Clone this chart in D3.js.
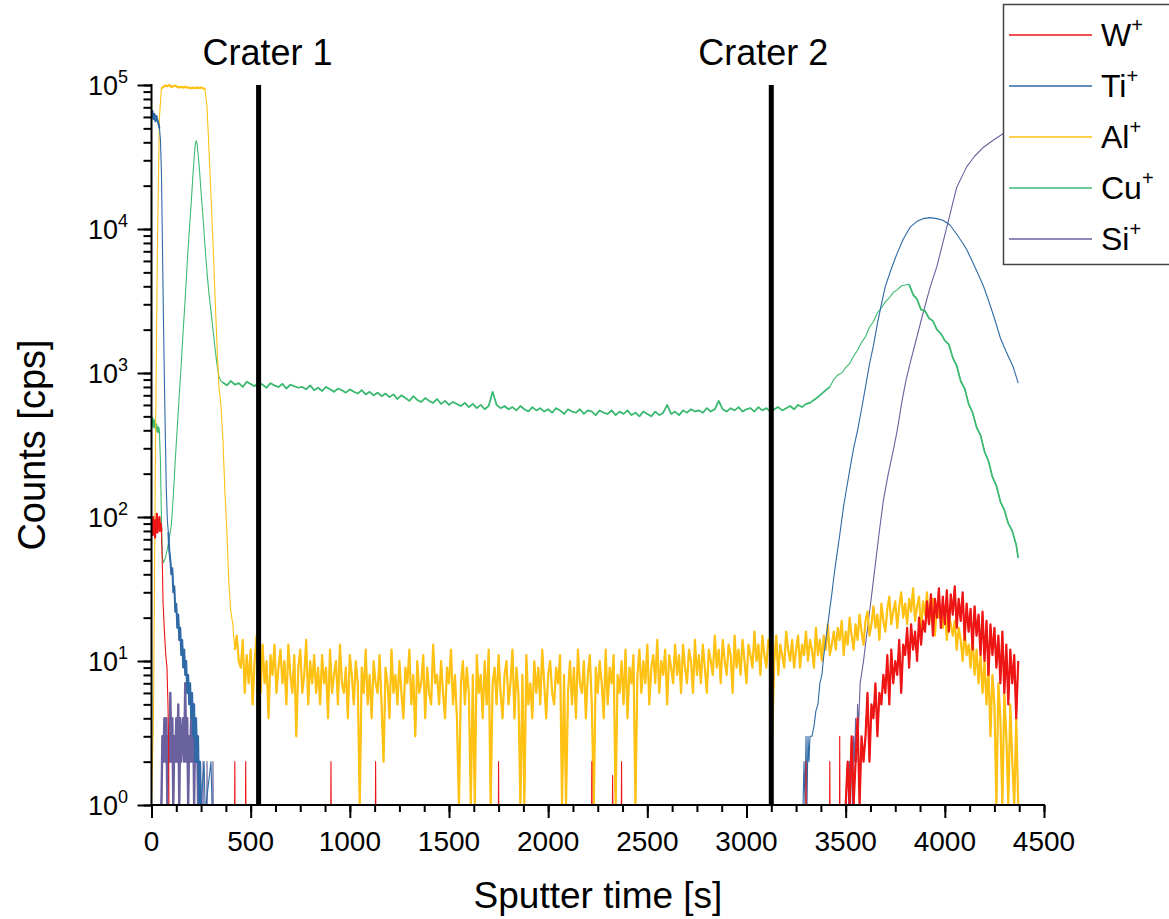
<!DOCTYPE html>
<html>
<head>
<meta charset="utf-8">
<script src="https://cdn.jsdelivr.net/npm/d3@7"></script>
<style>
  body { margin: 0; background: #fff; }
  svg { display: block; font-family: "Liberation Sans", Arial, sans-serif; }
</style>
</head>
<body>
<div id="chart"></div>
<script>
// ---- data ----
const ions = ["W", "Ti", "Al", "Cu", "Si"];
const ionColors = ["#ee1515", "#2f69a6", "#ffc114", "#3dba72", "#6a619f"];
const craterTimes = [540, 3125];
const craterLabels = ["Crater 1", "Crater 2"];
const xTicks = [0, 500, 1000, 1500, 2000, 2500, 3000, 3500, 4000, 4500];
const yTicks = [1, 10, 100, 1000, 10000, 100000];

// W+ : early burst and single-count spikes, then a noisy block every 10 s from 3500 s
const wTime = [0, 3, 6, 9, 12, 15, 18, 21, 24, 27, 30, 33, 36, 40, 43, 46, 50, 55, 58, 65, 72, 78, 83, 86, 88,
  419, 420, 421, 474, 475, 476, 904, 905, 906, 1129, 1130, 1131, 1749, 1750, 1751, 2219, 2220, 2221,
  2324, 2325, 2326, 2369, 2370, 2371, 3299, 3300, 3301, 3419, 3420, 3421, 3469, 3470, 3471, 3490];
const wCounts = [85, 95, 75, 100, 80, 90, 72, 95, 85, 105, 78, 92, 88, 100, 80, 90, 80, 45, 26, 16, 11, 9, 5, 3, 1,
  1, 2, 1, 1, 2, 1, 1, 2, 1, 1, 2, 1, 1, 2, 1, 1, 2, 1,
  1, 1.6, 1, 1, 2, 1, 1, 2, 1, 1, 2, 1, 1, 3, 1, 1];
const wLateStart = 3500, wLateStep = 10;
const wLate = [1, 2, 1, 3, 1, 2, 4, 1, 3, 2,
  3, 6, 2, 5, 4, 7, 3, 6, 5, 8,
  6, 11, 5, 12, 7, 10, 8, 14, 6, 13,
  11, 17, 9, 18, 12, 16, 10, 20, 13, 19,
  16, 26, 18, 29, 15, 27, 20, 32, 17, 28,
  18, 31, 16, 29, 21, 33, 17, 27, 19, 30,
  14, 25, 16, 23, 12, 24, 15, 21, 11, 22,
  10, 19, 8, 18, 11, 17, 9, 15, 7, 16,
  6, 13, 5, 12, 7, 11, 4, 10];

// Ti+
const tiTime = [0, 5, 10, 15, 20, 25, 30, 35, 40, 45, 50, 55, 60, 65, 70, 75, 80, 85, 90, 95, 100, 105, 110, 115, 120,
  125, 130, 135, 140, 145, 150, 155, 160, 165, 170, 175, 180, 185, 190, 195, 200, 205, 210, 215, 220, 225, 230, 235,
  240, 245, 250, 265, 270, 275, 300, 305,
  3285, 3290, 3295, 3300, 3305, 3310, 3315, 3320, 3330, 3340, 3350, 3360, 3370, 3380, 3390, 3400, 3410, 3420, 3430,
  3440, 3450, 3460, 3470, 3480, 3490, 3500, 3520, 3540, 3560, 3580, 3600, 3620, 3640, 3660, 3680, 3700, 3730, 3760,
  3790, 3825, 3860, 3890, 3925, 3960, 3990, 4025, 4060, 4090, 4110, 4140, 4170, 4195, 4220, 4250, 4280, 4310, 4345, 4370];
const tiCounts = [62000, 66000, 58000, 63000, 56000, 61000, 57000, 54000, 50000, 42000, 25000, 8000, 2500, 900, 350, 150, 95, 78, 58, 50, 40, 44, 30, 33, 22,
  25, 17, 21, 14, 17, 11, 14, 9, 12, 8, 10, 6, 8, 5, 7, 4, 6, 3, 5, 2, 4, 2, 3,
  1, 2, 1, 2, 1, 1, 2, 1,
  1, 2, 1, 3, 1, 3, 2, 3, 3, 3.5, 4.5, 5, 7, 8, 11, 14, 18, 23, 29,
  38, 48, 60, 75, 95, 120, 145, 210, 300, 400, 560, 800, 1150, 1550, 2200, 3000, 4000, 5300, 6800,
  8500, 10300, 11300, 11800, 12000, 11800, 11500, 10700, 9200, 8000, 7200, 5900, 4800, 4000, 3200, 2400, 1750, 1400, 1100, 850];

// Al+ : one value every 10 s from 0 s
const alStart = 0, alStep = 10;
const alCounts = [1, 4, 300, 8000, 60000, 95000, 97000, 99000, 98000, 100000, 97000, 98000, 99000, 97000, 96000,
  97000, 96000, 97000, 96000, 96000, 95000, 96000, 95000, 96000, 95000, 96000, 95000,
  93000, 70000, 35000, 17000, 8000, 3500, 1600, 800, 600, 350, 150, 80, 35, 22, 18, 12, 15, 10,
  9, 14, 6, 11, 7, 12, 5, 10, 15, 8, 6, 13, 7, 10, 4, 11, 8, 13, 6, 9,
  12, 7, 10, 5, 13, 8, 6, 11, 3, 9, 12, 6, 8, 14, 5, 10, 7, 11, 6, 9,
  5, 11, 7, 9, 4, 12, 6, 8, 10, 5, 13, 7, 6, 9, 4, 11, 8, 5, 10, 7,
  1, 9, 6, 12, 5, 8, 4, 10, 7, 6, 11, 5, 2, 9, 7, 4, 12, 6, 8, 5,
  10, 6, 4, 9, 7, 12, 5, 8, 3, 10, 6, 7, 11, 4, 9, 6, 5, 13, 7, 8,
  5, 10, 6, 4, 9, 7, 12, 5, 8, 4, 1, 7, 10, 5, 9, 6, 1, 8, 1, 11,
  6, 8, 4, 10, 5, 12, 1, 7, 9, 5, 11, 6, 4, 8, 10, 5, 7, 12, 4, 9,
  6, 1, 8, 1, 11, 5, 7, 4, 10, 6, 9, 5, 12, 7, 4, 8, 10, 6, 5, 9,
  7, 11, 1, 8, 1, 6, 10, 5, 9, 4, 12, 7, 6, 10, 4, 8, 11, 5, 1, 9,
  6, 10, 7, 4, 12, 5, 9, 7, 11, 1, 8, 6, 10, 5, 12, 4, 9, 7, 11, 1,
  8, 12, 6, 10, 7, 13, 5, 9, 11, 7, 14, 6, 10, 8, 12, 5, 11, 9, 7, 13,
  8, 11, 6, 13, 9, 7, 12, 10, 6, 14, 8, 11, 7, 13, 9, 6, 12, 10, 8, 15,
  9, 12, 7, 14, 10, 8, 13, 11, 6, 15, 9, 12, 8, 14, 10, 7, 13, 11, 9, 16,
  10, 13, 8, 15, 11, 9, 14, 12, 3, 10, 15, 8, 13, 11, 9, 16, 12, 10, 14, 9,
  12, 15, 9, 13, 11, 16, 10, 14, 12, 9, 17, 11, 14, 10, 15, 12, 18, 11, 13, 16,
  12, 17, 14, 19, 11, 16, 13, 20, 15, 12, 18, 14, 21, 16, 13, 19, 22, 15, 18, 24,
  17, 21, 14, 25, 19, 16, 23, 28, 18, 22, 26, 17, 24, 30, 20, 25, 18, 27, 22, 32,
  19, 24, 28, 16, 26, 21, 30, 18, 23, 27, 15, 25, 20, 22, 17, 24, 14, 21, 18, 15,
  19, 12, 17, 14, 10, 16, 11, 13, 9, 15, 8, 12, 7, 11, 6, 10, 5, 9, 3, 8,
  5, 1, 7, 4, 1, 6, 3, 1, 5, 2, 1, 4, 1];

// Cu+ : first peak, then a block every 20 s from 360 s
const cuTime = [0, 5, 10, 15, 20, 25, 30, 35, 40, 45, 50, 55, 60, 70, 80, 90, 100, 110, 120, 130, 140, 150, 160, 170,
  180, 190, 200, 210, 220, 225, 230, 240, 250, 260, 270, 280, 290, 300, 310, 320, 330, 340, 350, 4370];
const cuCounts = [450, 490, 420, 470, 410, 440, 390, 420, 380, 250, 100, 52, 48, 52, 60, 72, 88, 140, 250, 420, 700, 1150, 2000, 3300,
  5800, 9500, 15000, 25000, 38000, 41000, 39000, 28000, 18000, 12000, 7500, 5000, 3500, 2700, 2000, 1500, 1150, 950, 880, 52];
const cuBlockStart = 360, cuBlockStep = 20;
const cuBlock = [860, 820, 880, 830, 850, 800, 870, 840, 810, 860, 830, 790, 850, 820, 800, 840, 780, 830, 810, 790,
  800, 770, 820, 760, 790, 750, 800, 770, 740, 780, 760, 730, 770, 740, 720, 760, 710, 740, 700, 730,
  690, 720, 680, 710, 660, 700, 670, 640, 690, 650, 630, 670, 640, 620, 660, 610, 640, 600, 630, 610,
  590, 620, 580, 610, 570, 600, 560, 590, 740, 600, 570, 590, 560, 580, 550, 590, 560, 540, 580, 550,
  570, 540, 560, 530, 570, 550, 520, 560, 540, 530, 560, 520, 550, 540, 510, 550, 530, 520, 550, 510,
  540, 520, 550, 510, 530, 500, 540, 520, 500, 540, 510, 530, 600, 520, 540, 510, 550, 530, 560, 540,
  550, 530, 570, 540, 560, 640, 560, 540, 570, 550, 580, 540, 560, 570, 540, 580, 550, 570, 540, 560,
  580, 550, 570, 590, 560, 600, 580, 610, 620, 650, 680, 720, 760, 800,
  900, 970, 1000, 1090, 1160, 1310, 1440, 1630, 1790, 2080, 2280, 2620, 2830, 3120, 3330, 3620, 3780, 4020, 4080, 4120,
  3500, 3250, 2750, 2700, 2400, 2300, 2000, 1880, 1680, 1580, 1280, 1120, 880, 780, 610, 530, 420, 370, 285, 245,
  190, 165, 128, 112, 90, 80, 64];

// Si+
const siTime = [0, 50, 55, 60, 65, 70, 75, 80, 85, 90, 95, 100, 105, 110, 115, 120, 125, 130, 135, 140, 145, 150, 155,
  160, 165, 170, 175, 180, 185, 190, 195, 200, 205, 210, 215, 220, 225, 230, 235, 240, 245, 259, 260, 261, 279, 280,
  281, 309, 310, 311,
  3500, 3510, 3515, 3520, 3525, 3530, 3535, 3540, 3545, 3550, 3555, 3560, 3565, 3573, 3590, 3608, 3630, 3648, 3670,
  3690, 3715, 3740, 3760, 3785, 3805, 3825, 3860, 3890, 3925, 3960, 4010, 4060, 4110, 4150, 4195, 4240, 4295, 4340, 4370];
const siCounts = [1, 1, 3, 2, 4, 2, 4, 1, 3, 2, 6, 2, 4, 1, 3, 2, 4, 2, 5, 1, 4, 2, 3,
  4, 2, 7, 2, 4, 1, 3, 2, 4, 2, 5, 1, 4, 2, 3, 1, 2, 1, 1, 2, 1, 1, 2,
  1, 1, 2, 1,
  1, 2, 1, 2, 1, 3, 1, 3, 2, 4, 2, 5, 3.5, 7, 10, 16, 28, 45, 80,
  130, 200, 290, 400, 650, 900, 1170, 1800, 2600, 3900, 5500, 10300, 19500, 27000, 32000, 37000, 41000, 46000, 48500, 50000];

// ---- build series ----
const pairs = (ts, cs) => ts.map((t, i) => ({ t, c: cs[i] }));
const block = (start, step, cs) => cs.map((c, i) => ({ t: start + i * step, c }));
const byTime = (a, b) => a.t - b.t;

const seriesData = {
  W: pairs(wTime, wCounts).concat(block(wLateStart, wLateStep, wLate)).sort(byTime),
  Ti: pairs(tiTime, tiCounts),
  Al: block(alStart, alStep, alCounts),
  Cu: pairs(cuTime, cuCounts).concat(block(cuBlockStart, cuBlockStep, cuBlock)).sort(byTime),
  Si: pairs(siTime, siCounts)
};

// time windows where the signal is only counting noise: drawn heavier so the band reads as solid
const noisyWindows = {
  W: [[0, 50], [3500, 4370]],
  Ti: [[0, 40], [85, 250]],
  Al: [[50, 270], [420, 4370]],
  Cu: [[0, 40], [360, 3420], [3820, 4370]],
  Si: [[50, 250]]
};
const noisyWidth = { W: 2.2, Ti: 2, Al: 2.2, Cu: 1.7, Si: 2.4 };

// ---- chart ----
const width = 1169, height = 919;
const x = d3.scaleLinear().domain([0, 4500]).range([151.5, 1044]);
const y = d3.scaleLog().domain([1, 1e5]).range([805, 85]);
const color = d3.scaleOrdinal().domain(ions).range(ionColors);

const svg = d3.select("#chart").append("svg")
  .attr("width", width)
  .attr("height", height);

svg.append("defs").append("clipPath").attr("id", "plot-clip")
  .append("rect")
  .attr("x", x(0)).attr("y", y(1e5) - 2)
  .attr("width", x(4500) - x(0)).attr("height", y(1) - y(1e5) + 3);

const line = d3.line()
  .x(d => x(d.t))
  .y(d => y(Math.max(d.c, 1)));

// last in legend order is drawn first
const plot = svg.append("g").attr("clip-path", "url(#plot-clip)");
ions.slice().reverse().forEach(ion => {
  const g = plot.append("g");
  g.append("path")
    .datum(seriesData[ion])
    .attr("d", line)
    .attr("fill", "none")
    .attr("stroke", color(ion))
    .attr("stroke-width", 1.1)
    .attr("stroke-linejoin", "round");
  noisyWindows[ion].forEach(([t0, t1]) => {
    g.append("path")
      .datum(seriesData[ion].filter(d => d.t >= t0 && d.t <= t1))
      .attr("d", line)
      .attr("fill", "none")
      .attr("stroke", color(ion))
      .attr("stroke-width", noisyWidth[ion])
      .attr("stroke-linejoin", "round");
  });
});

// crater markers
svg.selectAll(".crater")
  .data(craterTimes)
  .enter()
  .append("line")
  .attr("class", "crater")
  .attr("x1", d => x(d)).attr("x2", d => x(d))
  .attr("y1", y(1e5)).attr("y2", y(1))
  .attr("stroke", "#000")
  .attr("stroke-width", 5);

const labelShift = [9, -8];
svg.selectAll(".crater-label")
  .data(craterLabels)
  .enter()
  .append("text")
  .attr("class", "crater-label")
  .attr("x", (d, i) => x(craterTimes[i]) + labelShift[i])
  .attr("y", 65)
  .attr("text-anchor", "middle")
  .style("font-size", "36px")
  .text(d => d);

// axes
const xAxis = svg.append("g").attr("transform", `translate(0,${y(1)})`);
xAxis.call(d3.axisBottom(x).tickValues(d3.range(0, 4501, 125)).tickSize(7).tickFormat(""));
xAxis.append("g").call(d3.axisBottom(x).tickValues(xTicks).tickSize(13).tickFormat(""));
xAxis.selectAll(".domain").remove();
xAxis.append("line").attr("x1", x(0) - 1).attr("x2", x(4500) + 1).attr("stroke", "#000").attr("stroke-width", 2);
xAxis.selectAll(".tick line").attr("stroke", "#000").attr("stroke-width", 2);

svg.selectAll(".xlabel")
  .data(xTicks)
  .enter()
  .append("text")
  .attr("class", "xlabel")
  .attr("x", d => x(d))
  .attr("y", 851)
  .attr("text-anchor", "middle")
  .style("font-size", "28px")
  .text(d => d);

const yAxis = svg.append("g").attr("transform", `translate(${x(0)},0)`);
yAxis.call(d3.axisLeft(y).tickValues(y.ticks()).tickSize(8).tickFormat(""));
yAxis.append("g").call(d3.axisLeft(y).tickValues(yTicks).tickSize(14).tickFormat(""));
yAxis.selectAll(".domain").remove();
yAxis.append("line").attr("y1", y(1e5) - 1).attr("y2", y(1) + 1).attr("stroke", "#000").attr("stroke-width", 2);
yAxis.selectAll(".tick line").attr("stroke", "#000").attr("stroke-width", 2);

const yLabels = svg.selectAll(".ylabel")
  .data(yTicks)
  .enter()
  .append("text")
  .attr("class", "ylabel")
  .attr("x", 128)
  .attr("y", d => y(d) + 10)
  .attr("text-anchor", "end")
  .style("font-size", "27px");
yLabels.append("tspan").text("10");
yLabels.append("tspan")
  .attr("dy", -12)
  .style("font-size", "18px")
  .text(d => Math.round(Math.log10(d)));

svg.append("text")
  .attr("transform", "translate(45,445) rotate(-90)")
  .attr("text-anchor", "middle")
  .style("font-size", "38px")
  .text("Counts [cps]");

svg.append("text")
  .attr("x", 598)
  .attr("y", 908)
  .attr("text-anchor", "middle")
  .style("font-size", "37px")
  .text("Sputter time [s]");

// legend
const legend = svg.append("g");
legend.append("rect")
  .attr("x", 1003.5).attr("y", 4.5)
  .attr("width", 220).attr("height", 260)
  .attr("fill", "#fff")
  .attr("stroke", "#444")
  .attr("stroke-width", 1.5);

const rows = legend.selectAll(".row")
  .data(ions)
  .enter()
  .append("g")
  .attr("class", "row")
  .attr("transform", (d, i) => `translate(0,${35 + i * 51})`);

rows.append("line")
  .attr("x1", 1009).attr("x2", 1092)
  .attr("stroke", d => color(d))
  .attr("stroke-width", 1.3);

const rowText = rows.append("text")
  .attr("x", 1101)
  .attr("y", 11)
  .style("font-size", "32px");
rowText.append("tspan").text(d => d);
rowText.append("tspan")
  .attr("dy", -14)
  .style("font-size", "20px")
  .text("+");
</script>
</body>
</html>
